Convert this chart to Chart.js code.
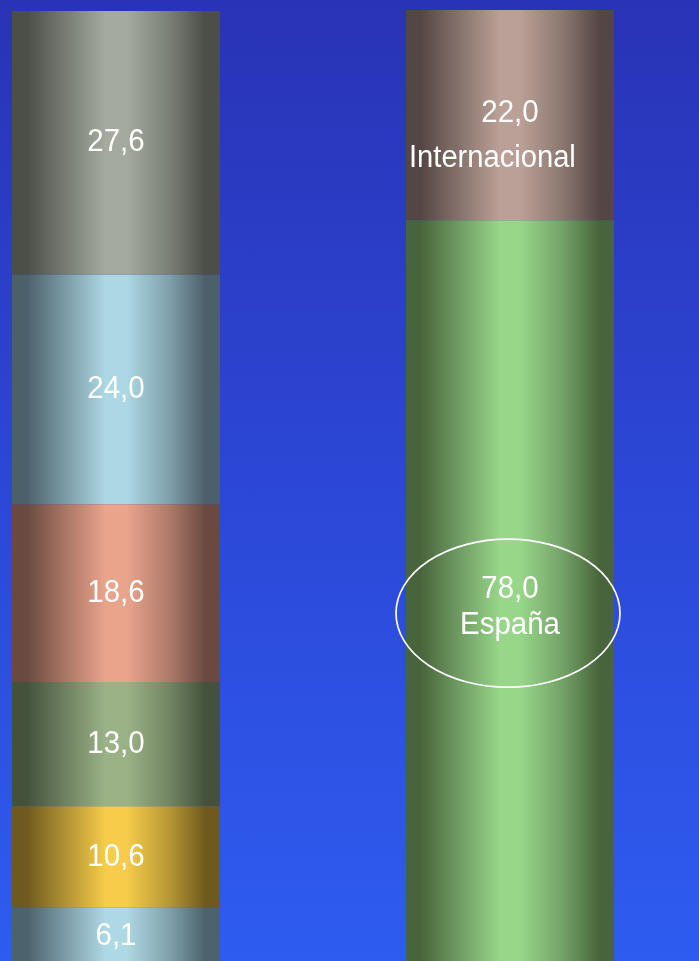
<!DOCTYPE html>
<html>
<head>
<meta charset="utf-8">
<script src="https://cdn.jsdelivr.net/npm/chart.js@4.4.1/dist/chart.umd.min.js"></script>
<style>
    html, body {
        margin: 0;
        padding: 0;
        width: 699px;
        height: 961px;
        overflow: hidden;
        background: linear-gradient(to bottom, #2933b5 0%, #2c47d6 50%, #2e5cf0 100%);
    }
    #wrap {
        position: absolute;
        left: -81px;
        top: 0;
    }
</style>
</head>
<body>
<div id="wrap">
    <canvas id="chart" width="788" height="966"></canvas>
</div>
<script>
// columns: breakdown on the left, origin on the right
const categories = ['Distribución', 'Origen'];

// left column, bottom to top
const leftValues = [6.1, 10.6, 13.0, 18.6, 24.0, 27.6];

// right column, bottom to top
const rightValues = [78.0, 22.0];
const rightNames = ['España', 'Internacional'];

// [light, dark] for the cylinder shading
const leftColors = [
    ['#aed8e4', '#4c626c'],  // light blue
    ['#f6cc4a', '#6e5a1e'],  // yellow
    ['#9bb287', '#44523c'],  // green
    ['#eaa48c', '#6a4a40'],  // salmon
    ['#acd8e4', '#4c606a'],  // light blue
    ['#a4ab9e', '#4c4e48']   // grey
];
const rightColors = [
    ['#98d68a', '#48643c'],  // green
    ['#baa096', '#544644']   // brown
];

const BAR_PCT = 0.528;

// horizontal gradient so each bar looks like a cylinder
function cylinder(light, dark) {
    return (ctx) => {
        const chart = ctx.chart;
        const xs = chart.scales.x;
        if (!chart.chartArea || !xs) return light;
        const cx = xs.getPixelForValue(ctx.dataIndex);
        const half = (xs.width / categories.length) * BAR_PCT / 2;
        const g = chart.ctx.createLinearGradient(cx - half, 0, cx + half, 0);
        g.addColorStop(0, dark);
        g.addColorStop(0.07, dark);
        g.addColorStop(0.45, light);
        g.addColorStop(0.55, light);
        g.addColorStop(0.75, mix(light, dark, 0.45));
        g.addColorStop(0.93, dark);
        g.addColorStop(1, dark);
        return g;
    };
}

function mix(a, b, t) {
    const pa = [1, 3, 5].map(i => parseInt(a.substr(i, 2), 16));
    const pb = [1, 3, 5].map(i => parseInt(b.substr(i, 2), 16));
    const c = pa.map((v, i) => Math.round(v + (pb[i] - v) * t));
    return `rgb(${c[0]},${c[1]},${c[2]})`;
}

const fmt = v => v.toFixed(1).replace('.', ',');

const datasets = [];
leftValues.forEach((v, i) => {
    datasets.push({
        label: fmt(v),
        data: [v, null],
        backgroundColor: cylinder(leftColors[i][0], leftColors[i][1]),
        name: ''
    });
});
rightValues.forEach((v, i) => {
    datasets.push({
        label: rightNames[i],
        data: [null, v],
        backgroundColor: cylinder(rightColors[i][0], rightColors[i][1]),
        name: rightNames[i]
    });
});

// text is a little condensed in the original
function narrowText(c, text, x, y, size, sx, align) {
    c.save();
    c.font = size + 'px "Liberation Sans", Arial, sans-serif';
    c.textAlign = align;
    c.translate(x, y);
    c.scale(sx, 1);
    c.fillText(text, 0, 0);
    c.restore();
}

// white value labels, names and the ellipse around España
const segmentLabels = {
    id: 'segmentLabels',
    afterDatasetsDraw(chart) {
        const c = chart.ctx;
        c.save();
        c.fillStyle = '#ffffff';
        c.textBaseline = 'middle';
        chart.data.datasets.forEach((ds, di) => {
            const meta = chart.getDatasetMeta(di);
            meta.data.forEach((el, i) => {
                const v = ds.data[i];
                if (v == null) return;
                const cy = (el.y + el.base) / 2;
                if (!ds.name) {
                    narrowText(c, fmt(v), el.x, cy, 31, 0.95, 'center');
                } else if (ds.name === 'Internacional') {
                    narrowText(c, fmt(v), el.x, cy - 2, 31, 0.95, 'center');
                    narrowText(c, ds.name, el.x - el.width / 2 + 3, cy + 43, 31, 0.94, 'left');
                } else {
                    narrowText(c, fmt(v), el.x, cy - 4, 31, 0.95, 'center');
                    narrowText(c, ds.name, el.x, cy + 32, 31, 0.95, 'center');
                    c.strokeStyle = '#ffffff';
                    c.lineWidth = 1.7;
                    c.beginPath();
                    c.ellipse(el.x - 2, cy + 20, 112, 74, 0, 0, Math.PI * 2);
                    c.stroke();
                }
            });
        });
        c.restore();
    }
};

new Chart(document.getElementById('chart'), {
    type: 'bar',
    data: {
        labels: categories,
        datasets: datasets
    },
    options: {
        responsive: false,
        animation: false,
        layout: { padding: { top: 10, left: 0, right: 0, bottom: 0 } },
        datasets: {
            bar: {
                barPercentage: BAR_PCT,
                categoryPercentage: 1,
                borderWidth: 0
            }
        },
        scales: {
            x: { stacked: true, display: false },
            y: { stacked: true, display: false, min: 0, max: 100 }
        },
        plugins: {
            legend: { display: false },
            tooltip: { enabled: false }
        }
    },
    plugins: [segmentLabels]
});
</script>
</body>
</html>
